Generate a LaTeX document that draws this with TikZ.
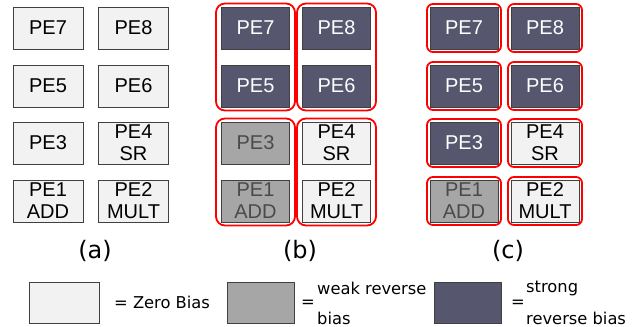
\documentclass[tikz,border=0pt]{standalone}
\usepackage{fontspec}
\setmainfont{Liberation Sans}
\newfontfamily\legendfont{DejaVu Sans}
\usetikzlibrary{fit}
\definecolor{zerofill}{HTML}{F2F2F2}
\definecolor{weakfill}{HTML}{A6A6A6}
\definecolor{strongfill}{HTML}{56566E}
\definecolor{boxline}{HTML}{404040}
\definecolor{weaktext}{HTML}{4A4A4A}

\tikzset{
  pe/.style={draw=boxline, line width=1pt, minimum width=68pt, minimum height=42pt,
    inner sep=0pt, align=center, font=\fontsize{20}{22}\selectfont},
  zero/.style={pe, fill=zerofill, text=black},
  weak/.style={pe, fill=weakfill, text=weaktext},
  strong/.style={pe, fill=strongfill, text=white},
  group/.style={draw=red, line width=1.8pt, rounded corners=9pt, inner xsep=5pt, inner ysep=3pt},
  single/.style={draw=red, line width=1.8pt, rounded corners=6pt, inner sep=2.5pt},
  caption/.style={font=\legendfont\fontsize{24}{28}\selectfont},
  legtext/.style={font=\legendfont\fontsize{16.3}{19}\selectfont, anchor=west, inner sep=0pt},
  legbox/.style={draw=boxline, line width=1pt, minimum width=68pt, minimum height=41pt, inner sep=0pt},
}

\begin{document}
\begin{tikzpicture}[x=1pt,y=-1pt]
\useasboundingbox (0,0) rectangle (638,327);

% (a) all processing elements at zero bias
\node[zero, minimum width=70pt] (a7) at (48,28) {PE7};
\node[zero, minimum width=70pt] (a8) at (133.5,28) {PE8};
\node[zero, minimum width=70pt] (a5) at (48,86) {PE5};
\node[zero, minimum width=70pt] (a6) at (133.5,86) {PE6};
\node[zero, minimum width=70pt] (a3) at (48,143) {PE3};
\node[zero, minimum width=70pt] (a4) at (133.5,143) {PE4\\SR};
\node[zero, minimum width=70pt] (a1) at (48,201) {PE1\\ADD};
\node[zero, minimum width=70pt] (a2) at (133.5,201) {PE2\\MULT};
\node[caption] (capa) at (95,251) {(a)};

% (b) biasing in column pairs
\node[strong] (b7) at (255.5,28) {PE7};
\node[strong] (b8) at (336.5,28) {PE8};
\node[strong] (b5) at (255.5,86) {PE5};
\node[strong] (b6) at (336.5,86) {PE6};
\node[weak] (b3) at (255.5,143) {PE3};
\node[zero] (b4) at (336.5,143) {PE4\\SR};
\node[weak] (b1) at (255.5,201) {PE1\\ADD};
\node[zero] (b2) at (336.5,201) {PE2\\MULT};
\node[group, fit=(b7)(b5)] (gb1) {};
\node[group, fit=(b8)(b6)] (gb2) {};
\node[group, fit=(b3)(b1)] (gb3) {};
\node[group, fit=(b4)(b2)] (gb4) {};
\node[caption] (capb) at (300,251) {(b)};

% (c) biasing per element
\node[strong] (c7) at (464,28) {PE7};
\node[strong] (c8) at (545,28) {PE8};
\node[strong] (c5) at (464,86) {PE5};
\node[strong] (c6) at (545,86) {PE6};
\node[strong] (c3) at (464,143) {PE3};
\node[zero] (c4) at (545,143) {PE4\\SR};
\node[weak] (c1) at (464,201) {PE1\\ADD};
\node[zero] (c2) at (545,201) {PE2\\MULT};
\foreach \n in {c7,c8,c5,c6,c3,c4,c1,c2}
  \node[single, fit=(\n)] {};
\node[caption] (capc) at (508,251) {(c)};

% legend
\node[legbox, fill=zerofill, minimum width=70pt] (lz) at (64,302.5) {};
\node[legtext] (lzt) at (114,302) {= Zero Bias};
\node[legbox, fill=weakfill, minimum width=67pt] (lw) at (260.5,303) {};
\node[legtext, anchor=center] (lweq) at (308,304) {=};
\node[legtext] (lwt1) at (317,288) {weak reverse};
\node[legtext] (lwt2) at (317,318) {bias};
\node[legbox, fill=strongfill, minimum width=67pt] (ls) at (467.5,303) {};
\node[legtext, anchor=center] (lseq) at (518,304) {=};
\node[legtext] (lst1) at (526,288) {strong};
\node[legtext] (lst2) at (526,318) {reverse bias};
\end{tikzpicture}
\end{document}
